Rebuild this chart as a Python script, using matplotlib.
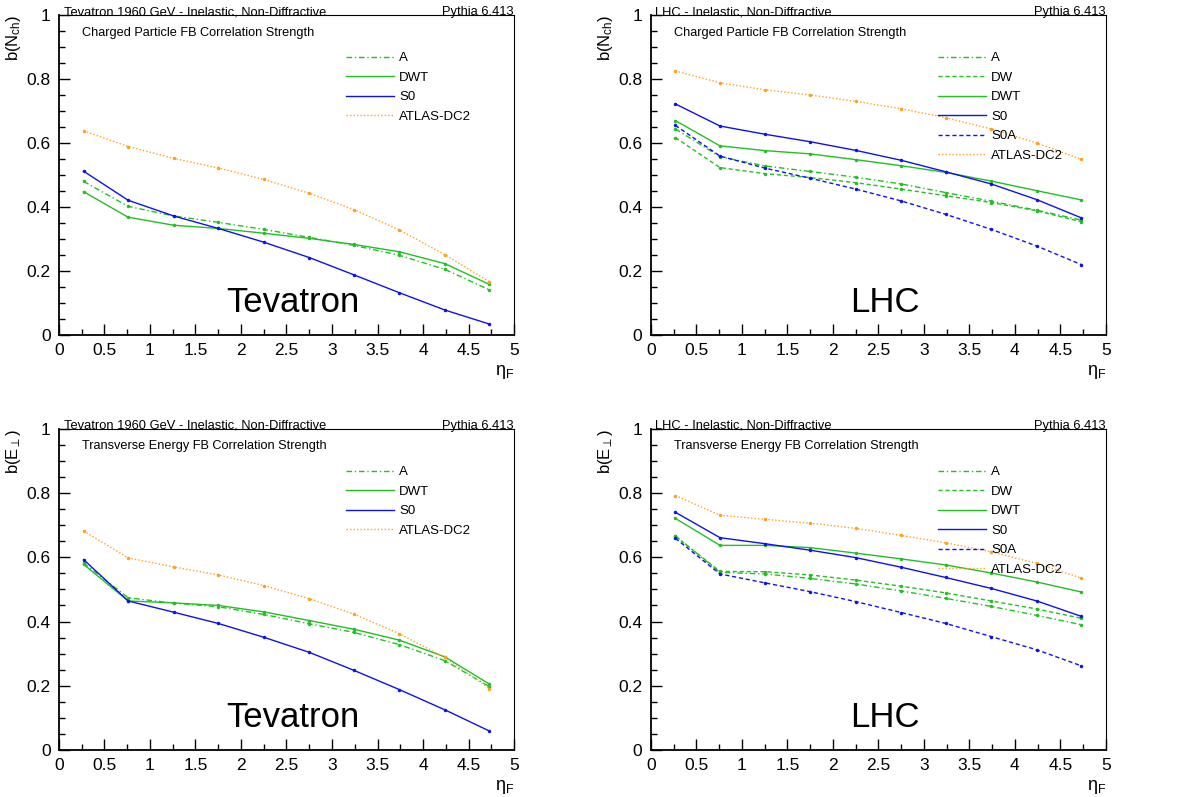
import matplotlib
matplotlib.use("Agg")
import matplotlib.pyplot as plt
from matplotlib.ticker import MultipleLocator, FuncFormatter
from matplotlib.lines import Line2D

plt.rcParams['font.family'] = ['Liberation Sans', 'DejaVu Sans']
plt.rcParams['mathtext.fontset'] = 'custom'
plt.rcParams['mathtext.rm'] = 'Liberation Sans'
plt.rcParams['mathtext.it'] = 'Liberation Sans'

eta = [0.27, 0.76, 1.26, 1.75, 2.25, 2.75, 3.24, 3.74, 4.24, 4.73]

# charged particle, Tevatron
tev_nch_A = [0.480, 0.402, 0.372, 0.352, 0.330, 0.305, 0.280, 0.249, 0.205, 0.141]
tev_nch_DWT = [0.448, 0.368, 0.343, 0.333, 0.318, 0.302, 0.283, 0.260, 0.223, 0.158]
tev_nch_S0 = [0.512, 0.421, 0.372, 0.333, 0.290, 0.242, 0.188, 0.132, 0.078, 0.034]
tev_nch_ATLAS = [0.638, 0.589, 0.552, 0.522, 0.486, 0.443, 0.392, 0.328, 0.251, 0.166]

# charged particle, LHC
lhc_nch_A = [0.644, 0.557, 0.528, 0.511, 0.493, 0.472, 0.445, 0.418, 0.390, 0.359]
lhc_nch_DW = [0.617, 0.523, 0.504, 0.492, 0.476, 0.456, 0.435, 0.414, 0.388, 0.354]
lhc_nch_DWT = [0.670, 0.591, 0.576, 0.566, 0.548, 0.529, 0.508, 0.481, 0.451, 0.422]
lhc_nch_S0 = [0.722, 0.653, 0.627, 0.604, 0.577, 0.546, 0.510, 0.472, 0.423, 0.366]
lhc_nch_S0A = [0.655, 0.559, 0.521, 0.490, 0.456, 0.419, 0.377, 0.330, 0.278, 0.220]
lhc_nch_ATLAS = [0.825, 0.788, 0.766, 0.750, 0.730, 0.707, 0.679, 0.644, 0.600, 0.549]

# transverse energy, Tevatron
tev_et_A = [0.582, 0.474, 0.457, 0.446, 0.422, 0.393, 0.366, 0.328, 0.278, 0.197]
tev_et_DWT = [0.578, 0.464, 0.458, 0.450, 0.430, 0.403, 0.376, 0.342, 0.290, 0.205]
tev_et_S0 = [0.593, 0.464, 0.429, 0.394, 0.351, 0.304, 0.248, 0.188, 0.125, 0.059]
tev_et_ATLAS = [0.682, 0.598, 0.570, 0.545, 0.512, 0.471, 0.423, 0.362, 0.288, 0.191]

# transverse energy, LHC
lhc_et_A = [0.667, 0.553, 0.548, 0.534, 0.517, 0.495, 0.472, 0.447, 0.419, 0.390]
lhc_et_DW = [0.665, 0.556, 0.555, 0.545, 0.529, 0.510, 0.489, 0.464, 0.439, 0.410]
lhc_et_DWT = [0.721, 0.637, 0.637, 0.630, 0.613, 0.595, 0.576, 0.551, 0.523, 0.492]
lhc_et_S0 = [0.740, 0.661, 0.642, 0.622, 0.599, 0.569, 0.537, 0.503, 0.464, 0.416]
lhc_et_S0A = [0.659, 0.548, 0.520, 0.493, 0.462, 0.428, 0.394, 0.353, 0.312, 0.262]
lhc_et_ATLAS = [0.792, 0.731, 0.718, 0.706, 0.690, 0.668, 0.645, 0.617, 0.581, 0.535]

GREEN = '#22c022'
BLUE = '#1010f0'
ORANGE = '#ffa020'
styles = {
    'A': (GREEN, (0, (4, 2, 1, 2))),
    'DW': (GREEN, (0, (3, 2))),
    'DWT': (GREEN, '-'),
    'S0': (BLUE, '-'),
    'S0A': (BLUE, (0, (3, 2))),
    'ATLAS-DC2': (ORANGE, (0, (1, 1.5))),
}

panels = [
    ([0.050, 0.5797, 0.386, 0.4015], 'Tevatron 1960 GeV - Inelastic, Non-Diffractive',
     'Charged Particle FB Correlation Strength', r'b(N$_{\rm ch}$)', 'Tevatron',
     [('A', tev_nch_A), ('DWT', tev_nch_DWT), ('S0', tev_nch_S0), ('ATLAS-DC2', tev_nch_ATLAS)]),
    ([0.552, 0.5797, 0.386, 0.4015], 'LHC - Inelastic, Non-Diffractive',
     'Charged Particle FB Correlation Strength', r'b(N$_{\rm ch}$)', 'LHC',
     [('A', lhc_nch_A), ('DW', lhc_nch_DW), ('DWT', lhc_nch_DWT), ('S0', lhc_nch_S0),
      ('S0A', lhc_nch_S0A), ('ATLAS-DC2', lhc_nch_ATLAS)]),
    ([0.050, 0.059, 0.386, 0.403], 'Tevatron 1960 GeV - Inelastic, Non-Diffractive',
     'Transverse Energy FB Correlation Strength', r'b(E$_{\perp}$)', 'Tevatron',
     [('A', tev_et_A), ('DWT', tev_et_DWT), ('S0', tev_et_S0), ('ATLAS-DC2', tev_et_ATLAS)]),
    ([0.552, 0.059, 0.386, 0.403], 'LHC - Inelastic, Non-Diffractive',
     'Transverse Energy FB Correlation Strength', r'b(E$_{\perp}$)', 'LHC',
     [('A', lhc_et_A), ('DW', lhc_et_DW), ('DWT', lhc_et_DWT), ('S0', lhc_et_S0),
      ('S0A', lhc_et_S0A), ('ATLAS-DC2', lhc_et_ATLAS)]),
]

fig = plt.figure(figsize=(11.79, 7.97), dpi=100)
fmt = FuncFormatter(lambda v, p: '%g' % v)

for rect, header, title, ylab, big, series in panels:
    ax = fig.add_axes(rect)
    handles = []
    for name, vals in series:
        col, ls = styles[name]
        ax.plot(eta, vals, color=col, linestyle=ls, linewidth=1.0,
                marker='.', markersize=3)
        handles.append(Line2D([], [], color=col, linestyle=ls, linewidth=1.0, label=name))
    ax.set_xlim(0, 5)
    ax.set_ylim(0, 1)
    ax.xaxis.set_major_locator(MultipleLocator(0.5))
    ax.xaxis.set_minor_locator(MultipleLocator(0.25))
    ax.yaxis.set_major_locator(MultipleLocator(0.2))
    ax.yaxis.set_minor_locator(MultipleLocator(0.05))
    ax.xaxis.set_major_formatter(fmt)
    ax.yaxis.set_major_formatter(fmt)
    ax.tick_params(which='both', direction='in', top=False, right=False, labelsize=12.5, width=1)
    ax.tick_params(which='major', length=8, pad=6)
    ax.tick_params(which='minor', length=4)
    for s in ['top', 'right']:
        ax.spines[s].set_linewidth(0.8)
    for s in ['left', 'bottom']:
        ax.spines[s].set_linewidth(1.3)

    ax.text(0.01, 0.99, header, transform=ax.transAxes, fontsize=9.3, ha='left', va='bottom')
    ax.text(1.0, 0.99, 'Pythia 6.413', transform=ax.transAxes, fontsize=9.3, ha='right', va='bottom')
    ax.text(0.05, 0.945, title, transform=ax.transAxes, fontsize=9.2, ha='left', va='center')
    ax.text(0.514, 0.1, big, transform=ax.transAxes, fontsize=25, ha='center', va='center')
    ax.text(-0.1, 1.0, ylab, transform=ax.transAxes, fontsize=12, rotation=90, ha='center', va='top')
    ax.text(1.0, -0.115, r'$\eta_{\rm F}$', transform=ax.transAxes, fontsize=13, ha='right', va='center')

    ax.legend(handles=handles, loc='upper left', bbox_to_anchor=(0.62, 0.9), frameon=False,
              fontsize=9.5, handlelength=3.6, labelspacing=0.55, handletextpad=0.4, borderaxespad=0)

fig.savefig('out.png', dpi=100)
